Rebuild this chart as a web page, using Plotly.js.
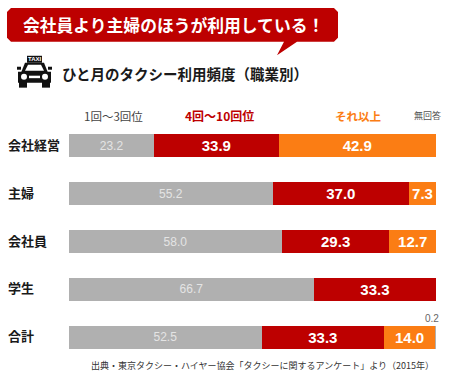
<!DOCTYPE html>
<html><head><meta charset="utf-8">
<script src="https://cdn.plot.ly/plotly-3.0.1.min.js"></script>
<style>html,body{margin:0;padding:0;background:#fff}#c{width:450px;height:384px}</style>
</head><body><div id="c"></div>
<script>
var categories = ['会社経営','主婦','会社員','学生','合計'];
var low  = [23.2,55.2,58.0,66.7,52.5];
var mid  = [33.9,37.0,29.3,33.3,33.3];
var high = [42.9,7.3,12.7,0,14.0];
var none = [0,0,0,0,0.2];
var headline = '会社員より主婦のほうが利用している！';
var subtitle = 'ひと月のタクシー利用頻度（職業別）';
var source = '出典・東京タクシー・ハイヤー協会「タクシーに関するアンケート」より（2015年）';

var W=450,H=384,L=69,R=436,T=121.5,B=361.5;
var JP='"Noto Sans CJK JP",sans-serif', LAT='"Liberation Sans",Arial,sans-serif';
function px(x){return (x-L)/(R-L);}
function py(y){return (B-y)/(B-T);}
function fmt(a){return a.map(function(v){return v>0?v.toFixed(1):'';});}
function series(name,vals,color,bold,size,tc){
  return {type:'bar',orientation:'h',name:name,y:categories,x:vals,width:0.48,
    marker:{color:color,line:{width:0}},text:fmt(vals),textposition:'inside',insidetextanchor:'middle',
    textangle:0,constraintext:'none',cliponaxis:false,
    textfont:{family:LAT,size:size,color:tc,weight:bold?700:400},hoverinfo:'name+x'};
}
var data=[
  series('1回〜3回位',low,'#b0b0b0',false,12,'#e4e4e4'),
  series('4回〜10回位',mid,'#bd0000',true,15,'#ffffff'),
  series('それ以上',high,'#fb7d14',true,15,'#ffffff'),
  {type:'bar',orientation:'h',name:'無回答',y:categories,x:none,width:0.48,marker:{color:'#b0b0b0',line:{width:0}},hoverinfo:'name+x'}
];
function note(text,x,y,size,color,bold,anchor,fam){
  return {text:text,xref:'paper',yref:'paper',x:px(x),y:py(y),xanchor:anchor||'center',yanchor:'middle',showarrow:false,
    font:{family:fam||JP,size:size,color:color,weight:bold?700:400}};
}
var ann=[
  note(headline,173,24,16.8,'#ffffff',true),
  note(subtitle,60,73,14.5,'#1a1a1a',true,'left'),
  note('1回〜3回位',113,115,11.5,'#444444',false),
  note('4回〜10回位',219,115,12,'#bd0000',true),
  note('それ以上',358,115,11.5,'#fb7d14',true),
  note('無回答',427,115,9,'#555555',false),
  note('TAXI',34.5,58.5,6,'#ffffff',true,'center',LAT),
  note(source,436,366,9,'#333333',false,'right'),
  {text:'0.2',xref:'x',yref:'y',x:100,y:categories[4],xanchor:'right',xshift:5,yshift:19,yanchor:'middle',showarrow:false,
    font:{family:LAT,size:10,color:'#666666'}}
];
categories.forEach(function(c){
  ann.push({text:c,xref:'paper',yref:'y',x:px(6),y:c,xanchor:'left',yanchor:'middle',yshift:1.5,showarrow:false,
    font:{family:JP,size:13,color:'#1a1a1a',weight:700}});
});
function P(x,y){return px(x).toFixed(5)+','+py(y).toFixed(5);}
function path(pts,color){
  var d=pts.map(function(p,i){return (i?'L':'M')+P(p[0],p[1]);}).join(' ')+' Z';
  return {type:'path',xref:'paper',yref:'paper',path:d,fillcolor:color,line:{width:0},layer:'above'};
}
function rect(x0,y0,x1,y1,color,kind){
  return {type:kind||'rect',xref:'paper',yref:'paper',x0:px(x0),x1:px(x1),y0:py(y0),y1:py(y1),fillcolor:color,line:{width:0},layer:'above'};
}
var shapes=[
  // speech bubble
  path([[11,7],[334,7],[338,11],[338,37],[334,41],[297,41],[277,54.5],[284,41],[11,41],[7,37],[7,11]],'#bd0000'),
  // taxi icon
  rect(27,55,42,62,'#111111'),
  path([[25,62],[44,62],[48,72],[21,72]],'#111111'),
  rect(18,71,51,82,'#111111'),
  rect(17,66,21,69,'#111111'),
  rect(48,66,52,69,'#111111'),
  rect(19,81,27,87,'#111111'),
  rect(42,81,50,87,'#111111'),
  path([[28,64],[41,64],[44,70],[25,70]],'#ffffff'),
  rect(21,73,27,79,'#ffffff','circle'),
  rect(42,73,48,79,'#ffffff','circle'),
  rect(29,75,40,77.5,'#ffffff')
];
var layout={width:W,height:H,autosize:false,barmode:'stack',barnorm:'percent',bargap:0.52,showlegend:false,
  paper_bgcolor:'#ffffff',plot_bgcolor:'#ffffff',
  margin:{l:L,r:W-R,t:T,b:H-B,pad:0},
  xaxis:{range:[0,100],visible:false,fixedrange:true},
  yaxis:{type:'category',categoryorder:'array',categoryarray:categories,autorange:false,range:[4.5,-0.5],visible:false,fixedrange:true},
  annotations:ann,shapes:shapes};
Plotly.newPlot('c',data,layout,{displayModeBar:false,staticPlot:true});
</script></body></html>
